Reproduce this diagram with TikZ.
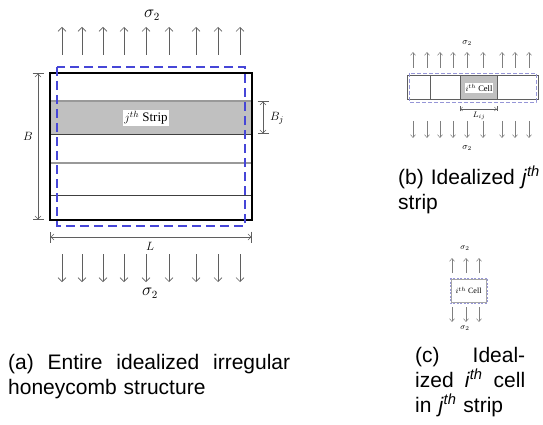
\documentclass[tikz,border=0pt]{standalone}
\usepackage{fontspec}
\setmainfont{Liberation Serif}
\newfontfamily\capfont{Liberation Sans}
\usetikzlibrary{arrows.meta,positioning}

\definecolor{dashblue}{RGB}{70,70,215}
\definecolor{lightdash}{RGB}{150,150,215}
\definecolor{stripgray}{RGB}{192,192,192}
\definecolor{loadgray}{RGB}{95,95,95}

\begin{document}
\begin{tikzpicture}[x=1pt,y=-1pt,
    load/.style={loadgray,line width=0.6pt,-{Straight Barb[length=4pt,width=8pt]}},
    smallload/.style={loadgray!80,line width=0.5pt,-{Straight Barb[length=3pt,width=5pt]}},
    dim/.style={loadgray,line width=0.6pt,
        {Bar[width=11pt]Straight Barb[length=3pt,width=6pt]}-{Straight Barb[length=3pt,width=6pt]Bar[width=11pt]}},
    smalldim/.style={loadgray,line width=0.4pt,
        {Bar[width=5pt]Straight Barb[length=2pt,width=4pt]}-{Straight Barb[length=2pt,width=4pt]Bar[width=5pt]}},
    caption/.style={font=\capfont\fontsize{21}{25}\selectfont,anchor=base west,inner sep=0pt,align=left}]

    \useasboundingbox (0,0) rectangle (543,425);

    % (a) Entire honeycomb: strips
    \fill[stripgray] (50,101) rectangle (252,134);
    \draw[gray!80,line width=1.2pt] (50,101) -- (252,101);
    \draw[black!75,line width=0.5pt] (50,134) -- (252,134);
    \draw[gray!80,line width=1.2pt] (50,163) -- (252,163);
    \draw[black!75,line width=0.5pt] (50,195) -- (252,195);
    \node[draw,line width=1.4pt,minimum width=202pt,minimum height=147pt,inner sep=0pt] (body) at (151,146.5) {};
    \node[fill=white,inner sep=1.5pt,font=\fontsize{13}{13}\selectfont] (strip) at (146,118) {$j^{th}$ Strip};

    % Idealized boundary
    \draw[dashblue,line width=1.4pt,dash pattern=on 9pt off 5pt] (57,67) rectangle (245,226);

    % Dimensions B, B_j and L
    \draw[dim] (38,73) -- (38,220);
    \node[font=\fontsize{13}{13}\selectfont] (blabel) at (28,136) {$B$};
    \draw[dim] (263,101) -- (263,134);
    \node[font=\fontsize{13}{13}\selectfont] (bjlabel) at (277,118) {$B_j$};
    \draw[dim] (50,237) -- (252,237);
    \node[font=\fontsize{13}{13}\selectfont] (llabel) at (150,246) {$L$};

    % Loads sigma_2
    \foreach \x in {62,82,103,124,146,169,196,218,240} {
        \draw[load] (\x,55) -- (\x,27);
        \draw[load] (\x,254) -- (\x,282);
    }
    \node[font=\fontsize{16}{16}\selectfont] (sigtop) at (152,15) {$\sigma_2$};
    \node[font=\fontsize{16}{16}\selectfont] (sigbot) at (150,293) {$\sigma_2$};

    % (b) Idealized strip
    \fill[stripgray] (460,75) rectangle (497,99);
    \draw[loadgray,line width=0.6pt] (407,75) rectangle (538,99);
    \draw[loadgray,line width=0.6pt] (430,75) -- (430,99);
    \draw[loadgray,line width=0.6pt] (460,75) -- (460,99);
    \draw[loadgray,line width=0.6pt] (497,75) -- (497,99);
    \node[fill=white,inner sep=1pt,font=\fontsize{8.5}{8.5}\selectfont] (cellb) at (479,88) {$i^{th}$ Cell};
    \draw[lightdash,line width=0.7pt,dash pattern=on 4pt off 2pt] (409,73) rectangle (536,102);
    \draw[smalldim] (460,109) -- (497,109);
    \node[font=\fontsize{8.5}{8.5}\selectfont] (lij) at (479,116) {$L_{ij}$};
    \foreach \x in {413,427,440,453,467,483,502,515,529} {
        \draw[smallload] (\x,68) -- (\x,52);
        \draw[smallload] (\x,121) -- (\x,138);
    }
    \node[font=\fontsize{9}{9}\selectfont] (sigbtop) at (467,43) {$\sigma_2$};
    \node[font=\fontsize{9}{9}\selectfont] (sigbbot) at (467,148) {$\sigma_2$};

    % (c) Idealized cell
    \draw[gray!70,line width=0.5pt] (451,279) rectangle (486,302);
    \draw[lightdash,line width=0.6pt,dash pattern=on 2pt off 1.5pt] (450,278) rectangle (487,303);
    \node[font=\fontsize{8}{8}\selectfont] (cellc) at (468.5,290.5) {$i^{th}$ Cell};
    \foreach \x in {452,466,479} {
        \draw[smallload] (\x,273) -- (\x,258);
        \draw[smallload] (\x,307) -- (\x,322);
    }
    \node[font=\fontsize{8}{8}\selectfont] (sigctop) at (465,248) {$\sigma_2$};
    \node[font=\fontsize{8}{8}\selectfont] (sigcbot) at (465,328) {$\sigma_2$};

    % Captions
    \node[caption,text width=282pt] (capa) at (8,369)
        {(a)\hfill Entire\hfill idealized\hfill irregular\\honeycomb structure};
    \node[caption,text width=145pt] (capb) at (398,184)
        {(b) Idealized \textit{j}\textsuperscript{\textit{th}}\\strip};
    \node[caption,text width=110pt] (capc) at (415,362)
        {(c)\hfill Ideal-\\ized\hfill\textit{i}\textsuperscript{\textit{th}}\hfill cell\\in \textit{j}\textsuperscript{\textit{th}} strip};
\end{tikzpicture}
\end{document}
